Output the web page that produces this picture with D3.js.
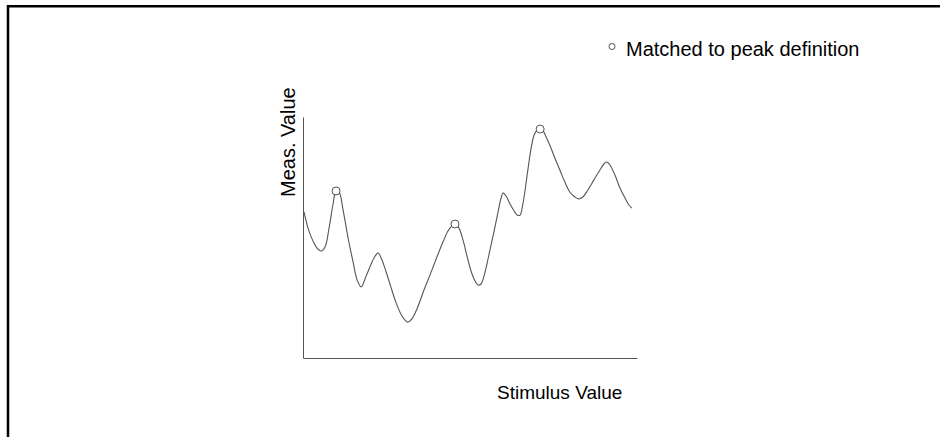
<!DOCTYPE html>
<html>
<head>
<meta charset="utf-8">
<script src="https://cdn.jsdelivr.net/npm/d3@7"></script>
<style>
  html, body { margin: 0; padding: 0; background: #fff; }
  svg { display: block; }
  text { font-family: "Liberation Sans", Arial, sans-serif; fill: #000; }
</style>
</head>
<body>
<svg id="chart" width="940" height="437"></svg>
<script>
// Stimulus values (x) and measured response (y) along the trace
const stimulus = [
  0.03, 0.15, 0.30, 0.42, 0.54, 0.66, 0.78, 0.90, 0.99, 1.08,
  1.20, 1.35, 1.50, 1.62, 1.74, 1.89, 2.04, 2.16, 2.25, 2.34,
  2.49, 2.63, 2.78, 2.93, 3.05, 3.14, 3.26, 3.41, 3.59, 3.80,
  4.01, 4.19, 4.34, 4.46, 4.55, 4.67, 4.79, 4.91, 5.03, 5.15,
  5.24, 5.33, 5.42, 5.51, 5.60, 5.72, 5.84, 5.93, 5.99, 6.08,
  6.20, 6.32, 6.41, 6.50, 6.56, 6.65, 6.74, 6.83, 6.92, 7.01,
  7.10, 7.19, 7.28, 7.40, 7.54, 7.69, 7.84, 7.99, 8.14, 8.26,
  8.38, 8.53, 8.71, 8.89, 9.01, 9.10, 9.19, 9.34, 9.49, 9.64,
  9.76, 9.85
];
const measured = [
  6.06, 5.39, 4.85, 4.56, 4.44, 4.61, 5.39, 6.39, 6.93, 6.89,
  6.14, 4.98, 3.98, 3.24, 2.95, 3.40, 3.90, 4.23, 4.36, 4.15,
  3.57, 2.95, 2.32, 1.83, 1.58, 1.49, 1.62, 2.03, 2.70, 3.44,
  4.19, 4.81, 5.27, 5.48, 5.56, 5.39, 4.90, 4.23, 3.61, 3.20,
  3.03, 3.07, 3.40, 3.92, 4.50, 5.25, 6.06, 6.64, 6.85, 6.72,
  6.39, 6.10, 5.93, 5.93, 6.22, 6.97, 7.88, 8.71, 9.25, 9.46,
  9.50, 9.42, 9.17, 8.80, 8.30, 7.80, 7.30, 6.89, 6.68, 6.60,
  6.68, 6.97, 7.39, 7.80, 8.05, 8.13, 8.01, 7.59, 7.05, 6.64,
  6.35, 6.22
];
// Stimulus positions of the peaks matched to the peak definition
const matchedPeaks = [0.99, 4.55, 7.10];

const xDomain = [0, 10];
const yDomain = [0, 10];

const svg = d3.select("#chart");

// Frame edges (top and left)
svg.append("path")
  .attr("d", "M8,437V6.2H940")
  .attr("fill", "none")
  .attr("stroke", "#000")
  .attr("stroke-width", 2.5);

const x = d3.scaleLinear().domain(xDomain).range([303, 637]);
const y = d3.scaleLinear().domain(yDomain).range([358, 117]);

// Bare axes: no ticks, just the axis lines
svg.append("g")
  .attr("transform", `translate(0,${y(0)})`)
  .call(d3.axisBottom(x).tickValues([]).tickSizeOuter(0));
svg.append("g")
  .attr("transform", `translate(${x(0)},0)`)
  .call(d3.axisLeft(y).tickValues([]).tickSizeOuter(0));
svg.selectAll(".domain").attr("stroke", "#555").attr("stroke-width", 1);

const data = stimulus.map((s, i) => ({ s, m: measured[i] }));

const line = d3.line()
  .x(d => x(d.s))
  .y(d => y(d.m))
  .curve(d3.curveCatmullRom.alpha(0.5));

svg.append("path")
  .datum(data)
  .attr("d", line)
  .attr("fill", "none")
  .attr("stroke", "#555")
  .attr("stroke-width", 1.1);

// Circles on matched peaks
const peakPts = matchedPeaks.map(p => {
  const i = stimulus.indexOf(p);
  return { s: p, m: measured[i] };
});
svg.selectAll("circle.peak")
  .data(peakPts)
  .enter().append("circle")
  .attr("class", "peak")
  .attr("cx", d => x(d.s))
  .attr("cy", d => y(d.m))
  .attr("r", 4)
  .attr("fill", "#fff")
  .attr("stroke", "#555")
  .attr("stroke-width", 1);

// Axis titles
svg.append("text")
  .attr("x", 497)
  .attr("y", 399)
  .attr("font-size", 19)
  .text("Stimulus Value");

svg.append("text")
  .attr("transform", "translate(295,197) rotate(-90)")
  .attr("font-size", 20)
  .text("Meas. Value");

// Legend
svg.append("circle")
  .attr("cx", 612)
  .attr("cy", 46.5)
  .attr("r", 3)
  .attr("fill", "#fff")
  .attr("stroke", "#555")
  .attr("stroke-width", 1);
svg.append("text")
  .attr("x", 626)
  .attr("y", 56)
  .attr("font-size", 20)
  .text("Matched to peak definition");
</script>
</body>
</html>
